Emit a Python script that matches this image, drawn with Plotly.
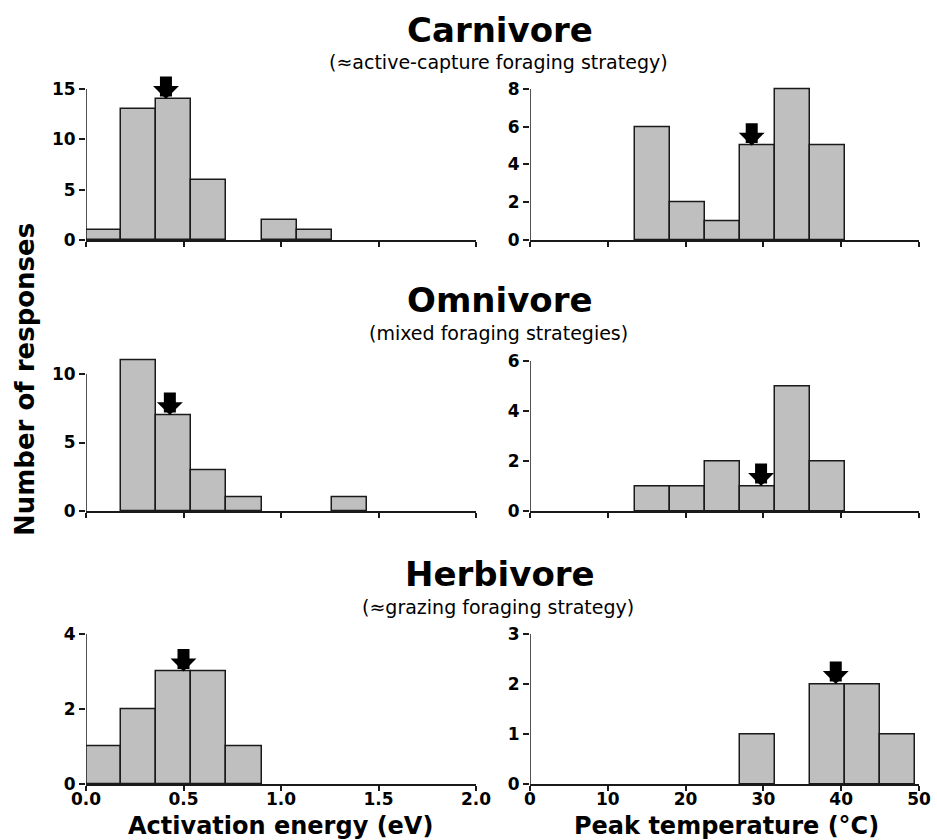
import plotly.graph_objects as go

# ---- data -----------------------------------------------------------------
# Activation energy histograms (eV), bins of 0.18 eV starting at 0
energy_bin_width = 0.18
carnivore_energy = [1, 13, 14, 6, 0, 2, 1]
omnivore_energy = [0, 11, 7, 3, 1, 0, 0, 1]
herbivore_energy = [1, 2, 3, 3, 1]

# Peak temperature histograms (deg C), bins of 4.5 C starting at 0
temp_bin_width = 4.5
carnivore_temp = [0, 0, 0, 6, 2, 1, 5, 8, 5]
omnivore_temp = [0, 0, 0, 1, 1, 2, 1, 5, 2]
herbivore_temp = [0, 0, 0, 0, 0, 0, 1, 0, 2, 2, 1]

# Group means marked by arrows
carnivore_mean_energy, omnivore_mean_energy, herbivore_mean_energy = 0.41, 0.43, 0.50
carnivore_mean_temp, omnivore_mean_temp, herbivore_mean_temp = 28.5, 29.7, 39.3

energy_ticks = [0, 0.5, 1.0, 1.5, 2.0]
energy_ticktext = ["0.0", "0.5", "1.0", "1.5", "2.0"]
temp_ticks = [0, 10, 20, 30, 40, 50]
temp_ticktext = ["0", "10", "20", "30", "40", "50"]

groups = ["Carnivore", "Omnivore", "Herbivore"]
subtitles = ["(\u2248active-capture foraging strategy)",
             "(mixed foraging strategies)",
             "(\u2248grazing foraging strategy)"]

# ---- layout geometry (pixels) ---------------------------------------------
W, H = 937, 840
FONT = "DejaVu Sans"
BAR_FILL = "#bfbfbf"
INK = "#1a1a1a"


def fx(p):
    return p / W


def fy(p):
    return 1 - p / H


# each panel: counts, bin width, mean, x range, x pixel span,
# y ticks, y pixel of axis bottom, y pixel of top tick, y range max
panels = [
    dict(c=carnivore_energy, bw=energy_bin_width, m=carnivore_mean_energy, xr=[0, 2],
         xp=(86, 476), yt=[0, 5, 10, 15], yb=240, ytop=89, ymax=15.2),
    dict(c=carnivore_temp, bw=temp_bin_width, m=carnivore_mean_temp, xr=[0, 50],
         xp=(530, 919), yt=[0, 2, 4, 6, 8], yb=240, ytop=89, ymax=8.15),
    dict(c=omnivore_energy, bw=energy_bin_width, m=omnivore_mean_energy, xr=[0, 2],
         xp=(86, 476), yt=[0, 5, 10], yb=511, ytop=374, ymax=11.3),
    dict(c=omnivore_temp, bw=temp_bin_width, m=omnivore_mean_temp, xr=[0, 50],
         xp=(530, 919), yt=[0, 2, 4, 6], yb=511, ytop=361, ymax=6.1),
    dict(c=herbivore_energy, bw=energy_bin_width, m=herbivore_mean_energy, xr=[0, 2],
         xp=(86, 476), yt=[0, 2, 4], yb=784, ytop=634, ymax=4.05),
    dict(c=herbivore_temp, bw=temp_bin_width, m=herbivore_mean_temp, xr=[0, 50],
         xp=(530, 919), yt=[0, 1, 2, 3], yb=784, ytop=634, ymax=3.05),
]

fig = go.Figure()
annotations = []
shapes = []
layout_axes = {}

tick_font = dict(family=FONT, size=17, color="black", weight="bold")

for i, p in enumerate(panels):
    n = i + 1
    xa = "x" if n == 1 else f"x{n}"
    ya = "y" if n == 1 else f"y{n}"
    xkey = "xaxis" if n == 1 else f"xaxis{n}"
    ykey = "yaxis" if n == 1 else f"yaxis{n}"

    bw = p["bw"]
    centers = [(k + 0.5) * bw for k, v in enumerate(p["c"]) if v > 0]
    heights = [v for v in p["c"] if v > 0]
    fig.add_trace(go.Bar(
        x=centers, y=heights, width=[bw] * len(heights),
        marker=dict(color=BAR_FILL, line=dict(color=INK, width=1.5)),
        xaxis=xa, yaxis=ya, showlegend=False, hoverinfo="x+y",
    ))

    top_tick = max(p["yt"])
    span = (p["yb"] - p["ytop"]) * p["ymax"] / top_tick
    is_energy = p["xr"][1] == 2
    bottom_row = i >= 4

    layout_axes[xkey] = dict(
        domain=[fx(p["xp"][0]), fx(p["xp"][1])], range=p["xr"], anchor=ya,
        automargin=False,
        showgrid=False, zeroline=False, showline=True, linecolor=INK, linewidth=1.5,
        ticks="outside", ticklen=5, tickwidth=1.5, tickcolor=INK,
        tickvals=energy_ticks if is_energy else temp_ticks,
        ticktext=energy_ticktext if is_energy else temp_ticktext,
        showticklabels=bottom_row, tickfont=tick_font, fixedrange=True,
        ticklabelstandoff=-6,
    )
    layout_axes[ykey] = dict(
        domain=[fy(p["yb"]), fy(p["yb"] - span)], range=[0, p["ymax"]], anchor=xa,
        automargin=False,
        showgrid=False, zeroline=False, showline=False,
        ticks="outside", ticklen=6, tickwidth=1.5, tickcolor=INK,
        tickvals=p["yt"], ticktext=[str(t) for t in p["yt"]],
        tickfont=tick_font, fixedrange=True,
    )
    # vertical axis line stops at the highest tick
    shapes.append(dict(type="line", xref=xa, yref=ya, x0=0, x1=0, y0=0, y1=top_tick,
                       line=dict(color=INK, width=1.5), layer="above"))

    # arrow pointing at the bar containing the group mean
    bin_idx = int(p["m"] // bw)
    annotations.append(dict(
        x=p["m"], y=p["c"][bin_idx], xref=xa, yref=ya, text="",
        showarrow=True, arrowhead=1, arrowsize=0.36, arrowwidth=12,
        arrowcolor="black", ax=0, ay=-24, standoff=0,
    ))

# group titles
title_rows = [(30, 62), (300, 333), (574, 607)]
for name, sub, (ty, sy) in zip(groups, subtitles, title_rows):
    annotations.append(dict(text=f"<b>{name}</b>", x=fx(500), y=fy(ty), xref="paper",
                            yref="paper", showarrow=False, xanchor="center", yanchor="middle",
                            font=dict(family=FONT, size=34, color="black")))
    annotations.append(dict(text=sub, x=fx(498), y=fy(sy), xref="paper", yref="paper",
                            showarrow=False, xanchor="center", yanchor="middle",
                            font=dict(family=FONT, size=19, color="black")))

# axis titles
annotations.append(dict(text="<b>Number of responses</b>", x=fx(25), y=fy(380),
                        xref="paper", yref="paper", showarrow=False, textangle=-90,
                        xanchor="center", yanchor="middle",
                        font=dict(family=FONT, size=26, color="black")))
annotations.append(dict(text="<b>Activation energy (eV)</b>", x=fx(280), y=fy(826),
                        xref="paper", yref="paper", showarrow=False,
                        xanchor="center", yanchor="middle",
                        font=dict(family=FONT, size=24, color="black")))
annotations.append(dict(text="<b>Peak temperature (\u00b0C)</b>", x=fx(726), y=fy(826),
                        xref="paper", yref="paper", showarrow=False,
                        xanchor="center", yanchor="middle",
                        font=dict(family=FONT, size=24, color="black")))

fig.update_layout(
    width=W, height=H, autosize=False,
    margin=dict(l=0, r=0, t=0, b=0, autoexpand=False),
    paper_bgcolor="white", plot_bgcolor="white",
    barmode="overlay", bargap=0,
    annotations=annotations, shapes=shapes,
    font=dict(family=FONT, color="black"),
    **layout_axes,
)

fig.write_html("out.html")
